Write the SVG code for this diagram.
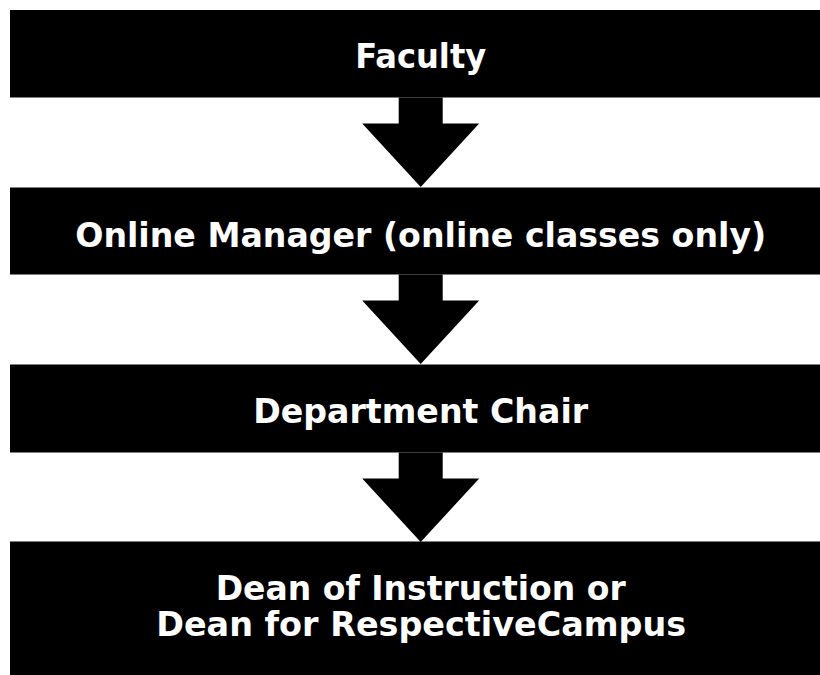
<svg xmlns="http://www.w3.org/2000/svg" xmlns:xlink="http://www.w3.org/1999/xlink" width="820" height="675" viewBox="0 0 820 675">
  <style>
    .box { fill: #000000; }
    .label { fill: #ffffff; font-family: "DejaVu Sans", "Liberation Sans", sans-serif; font-weight: bold; font-size: 34px; text-anchor: middle; }
    .flow { fill: #000000; }
  </style>
  <defs>
    <!-- block arrow: shaft 44 wide, head 117 wide, origin at top centre -->
    <path id="blockArrow" d="M -22 0 H 22 V 26 H 58.5 L 0 89.5 L -58.5 26 H -22 Z"/>
  </defs>

  <rect x="0" y="0" width="820" height="675" fill="#ffffff"/>

  <g id="connectors" class="flow">
    <use xlink:href="#blockArrow" href="#blockArrow" x="420.7" y="97.5"/>
    <use xlink:href="#blockArrow" href="#blockArrow" x="420.7" y="274.5"/>
    <use xlink:href="#blockArrow" href="#blockArrow" x="420.7" y="452.5"/>
  </g>

  <g id="faculty">
    <rect class="box" x="10" y="10" width="810" height="87.5"/>
    <text class="label" x="420.7" y="68.3" textLength="131" lengthAdjust="spacingAndGlyphs">Faculty</text>
  </g>

  <g id="online-manager">
    <rect class="box" x="10" y="187.5" width="810" height="87"/>
    <text class="label" x="420.7" y="247.3" textLength="691" lengthAdjust="spacingAndGlyphs">Online Manager (online classes only)</text>
  </g>

  <g id="department-chair">
    <rect class="box" x="10" y="364.5" width="810" height="88"/>
    <text class="label" x="420.7" y="423.3" textLength="335" lengthAdjust="spacingAndGlyphs">Department Chair</text>
  </g>

  <g id="dean">
    <rect class="box" x="10" y="541.5" width="810" height="133.5"/>
    <text class="label" x="420.7" y="600" textLength="410" lengthAdjust="spacingAndGlyphs">Dean of Instruction or</text>
    <text class="label" x="421.2" y="636" textLength="530" lengthAdjust="spacingAndGlyphs">Dean for RespectiveCampus</text>
  </g>
</svg>
